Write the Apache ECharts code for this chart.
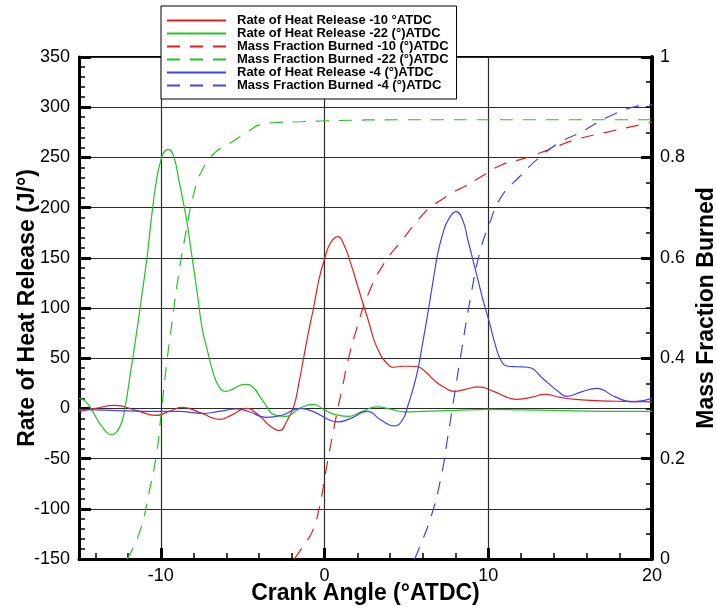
<!DOCTYPE html>
<html>
<head>
<meta charset="utf-8">
<script src="https://cdn.jsdelivr.net/npm/echarts@6/dist/echarts.min.js"></script>
<style>
  html, body { margin: 0; padding: 0; background: #fff; }
  #chart { width: 717px; height: 609px; }
</style>
</head>
<body>
<div id="chart"></div>
<script>
const FONT = '"Liberation Sans", Arial, Helvetica, sans-serif';

// Crank-angle tick positions (degrees ATDC)
const angleMajorTicks = [-10, 0, 10, 20];
const angleMinorTicks = [-14, -12, -8, -6, -4, -2, 2, 4, 6, 8, 12, 14, 16, 18];

const seriesNames = [
  'Rate of Heat Release -10 \u00b0ATDC',
  'Rate of Heat Release -22 (\u00b0)ATDC',
  'Mass Fraction Burned -10 (\u00b0)ATDC',
  'Mass Fraction Burned -22 (\u00b0)ATDC',
  'Rate of Heat Release -4 (\u00b0)ATDC',
  'Mass Fraction Burned -4 (\u00b0)ATDC'
];

// Rate of heat release (J/deg), injection at -10 ATDC
const rhr10Angle = [-15, -14, -12.8, -11.5, -10.3, -9.5, -8.7, -7.5, -6.4, -5.6, -4.8, -4.0, -3.37, -2.76, -2.29, -1.88, -1.57, -1.27, -0.96, -0.66, -0.35, 0, 0.37, 0.82, 1.18, 1.6, 2.0, 2.41, 2.72, 3.02, 3.33, 3.64, 4.25, 4.76, 5.3, 5.69, 6.2, 6.7, 7.3, 7.93, 8.6, 9.37, 10.4, 11.0, 11.7, 12.6, 13.45, 14.4, 15.3, 16.9, 18.5, 20];
const rhr10Value = [-3, 0, 3, -2, -7, -3, 1, -5, -11, -6, 0, -7, -17, -22, -12, 2, 25, 51, 78, 101, 128, 149, 165, 171, 163, 144.5, 123, 101, 85, 68, 56.5, 48, 41, 42, 42, 41.5, 36, 28, 21, 17, 19, 21.5, 16.5, 12, 9, 11, 14, 11, 9, 7.5, 7, 6.5];

// Rate of heat release (J/deg), injection at -22 ATDC
const rhr22Angle = [-15, -14.6, -14.2, -13.6, -13.0, -12.5, -12.2, -11.86, -11.55, -11.15, -10.84, -10.5, -10.23, -10.0, -9.82, -9.55, -9.2, -8.9, -8.65, -8.39, -8.08, -7.77, -7.47, -7.16, -6.85, -6.44, -6.03, -5.52, -4.9, -4.4, -3.79, -2.96, -2.35, -1.53, -0.7, 0, 0.6, 1.4, 2.3, 3.2, 4.1, 4.9, 6, 8, 10, 12, 14, 17, 20];
const rhr22Value = [10, 7, -2, -18, -26, -18, 0, 35, 68, 114, 151, 200, 231, 247, 255, 258, 250, 227, 207, 184, 149, 114, 79, 58, 38, 21.5, 17, 20, 24, 21.5, 8, -7, -8, 0, 4, -1.5, -6, -8, -3, 1.5, -1, -3.5, -3, -2, -1, -1.5, -2, -3, -3];

// Rate of heat release (J/deg), injection at -4 ATDC
const rhr4Angle = [-15, -13, -10.9, -8.9, -7.47, -6.44, -5.4, -4.6, -3.58, -2.55, -1.53, -0.72, 0.3, 0.78, 1.6, 2.6, 3.44, 4.25, 4.76, 5.07, 5.38, 5.69, 5.99, 6.3, 6.6, 6.91, 7.22, 7.53, 8.04, 8.45, 8.75, 9.06, 9.37, 9.71, 10.08, 10.4, 10.8, 11.2, 11.8, 12.4, 13.45, 14.3, 14.8, 15.7, 16.6, 17.75, 18.8, 20];
const rhr4Value = [-1, -2, -3, -3, -5, -3, -0.6, -3.3, -9, -6.6, 0, -3, -11.6, -13.5, -10, -3, -11.6, -17.5, -11.5, 1.7, 18, 38, 65, 94, 124, 154, 174, 187, 196, 187, 168, 148, 128, 106, 85, 65, 47, 42, 41.5, 41, 28, 16.5, 12, 16.5, 20, 11.5, 6.5, 10];

// Mass fraction burned, injection at -10 ATDC
const mfb10Angle = [-1.85, -1.17, -0.76, -0.35, 0.16, 0.67, 1.18, 1.39, 2.0, 2.72, 3.64, 4.66, 5.89, 6.5, 7.12, 7.93, 8.55, 9.37, 10.8, 12.2, 13.66, 15.3, 17.34, 20];
const mfb10Value = [0, 0.032, 0.054, 0.098, 0.19, 0.277, 0.357, 0.39, 0.463, 0.532, 0.589, 0.632, 0.682, 0.702, 0.715, 0.732, 0.742, 0.758, 0.785, 0.798, 0.815, 0.835, 0.851, 0.87];

// Mass fraction burned, injection at -22 ATDC
const mfb22Angle = [-12.05, -11.25, -10.74, -10.29, -10.02, -9.67, -9.3, -8.9, -8.48, -7.98, -7.47, -6.65, -6.03, -4.7, -3.89, -3.2, -1.5, 0.1, 5, 10, 15, 20];
const mfb22Value = [0, 0.058, 0.13, 0.204, 0.277, 0.383, 0.476, 0.57, 0.649, 0.729, 0.775, 0.811, 0.823, 0.851, 0.866, 0.869, 0.871, 0.873, 0.875, 0.875, 0.875, 0.875];

// Mass fraction burned, injection at -4 ATDC
const mfb4Angle = [5.5, 5.69, 6.5, 7.12, 7.53, 7.9, 8.24, 8.96, 9.47, 10.08, 10.8, 11.92, 13.05, 14.28, 15.7, 17.34, 18.98, 20];
const mfb4Value = [0, 0.0145, 0.084, 0.164, 0.244, 0.32, 0.39, 0.529, 0.609, 0.669, 0.722, 0.762, 0.798, 0.828, 0.851, 0.881, 0.901, 0.905];

const RED = '#e0201e', GREEN = '#22c322', BLUE = '#4242f2';
const DASH = [13, 10];

function pairs(xs, ys) { return xs.map((x, i) => [x, ys[i]]); }

function curve(name, xs, ys, color, dashed, yAxisIndex) {
  return {
    name: name,
    type: 'line',
    xAxisIndex: 0,
    yAxisIndex: yAxisIndex,
    data: pairs(xs, ys),
    smooth: 0.5,
    symbol: 'none',
    showSymbol: false,
    clip: true,
    lineStyle: { color: color, width: 1.2, type: dashed ? DASH : 'solid' },
    itemStyle: { color: color },
    emphasis: { disabled: true },
    animation: false
  };
}

const labelStyle = { color: '#000', fontFamily: FONT, fontSize: 18 };
const titleStyle = { color: '#000', fontFamily: FONT, fontSize: 23, fontWeight: 'bold' };
const gridLine = { show: true, lineStyle: { color: '#2b2b2b', width: 1.2 } };
const plotBox = { left: 79, right: 65, top: 57, bottom: 50, outerBoundsMode: 'none', containLabel: false };

const chart = echarts.init(document.getElementById('chart'), null, { renderer: 'canvas' });
chart.setOption({
  animation: false,
  backgroundColor: '#fff',
  grid: [
    Object.assign({ show: true, borderColor: '#000', borderWidth: 2, backgroundColor: 'transparent' }, plotBox),
    Object.assign({ show: false }, plotBox)
  ],
  legend: {
    left: 161, top: 6,
    orient: 'vertical',
    data: seriesNames,
    itemWidth: 59, itemHeight: 12.9, itemGap: 0,
    padding: [8, 8, 7, 5],
    backgroundColor: '#fff',
    borderColor: '#000', borderWidth: 1,
    selectedMode: false,
    itemStyle: { opacity: 0 },
    textStyle: { color: '#000', fontFamily: FONT, fontSize: 13, fontWeight: 'bold', lineHeight: 12.9, padding: [0, 0, 0, 6] }
  },
  xAxis: [
    {
      gridIndex: 0, type: 'value', min: -15, max: 20,
      axisLine: { show: true, onZero: false, lineStyle: { color: '#000', width: 3 } },
      axisTick: { show: true, inside: true, length: 6, customValues: angleMinorTicks, lineStyle: { color: '#000', width: 1.5 } },
      axisLabel: { show: false },
      splitLine: { show: false }
    },
    {
      gridIndex: 1, type: 'value', min: -15, max: 20, position: 'bottom',
      axisLine: { show: false, onZero: false },
      axisTick: { show: true, inside: true, length: 11, customValues: angleMajorTicks, lineStyle: { color: '#000', width: 3 } },
      axisLabel: Object.assign({ customValues: angleMajorTicks, margin: 8 }, labelStyle),
      splitLine: gridLine,
      name: 'Crank Angle (\u00b0ATDC)', nameLocation: 'middle', nameGap: 23, nameMoveOverlap: false,
      nameTextStyle: titleStyle
    }
  ],
  yAxis: [
    {
      gridIndex: 0, type: 'value', position: 'left', min: -150, max: 350, interval: 50,
      axisLine: { show: true, onZero: false, lineStyle: { color: '#000', width: 3 } },
      axisTick: { show: true, inside: true, length: 12, lineStyle: { color: '#000', width: 3 } },
      minorTick: { show: true, splitNumber: 5, length: 6, lineStyle: { color: '#000', width: 1.5 } },
      axisLabel: Object.assign({ margin: 9 }, labelStyle),
      splitLine: gridLine,
      name: 'Rate of Heat Release (J/\u00b0)', nameLocation: 'middle', nameGap: 40, nameMoveOverlap: false,
      nameTextStyle: titleStyle
    },
    {
      gridIndex: 0, type: 'value', position: 'right', min: 0, max: 1, interval: 0.2,
      axisLine: { show: true, onZero: false, lineStyle: { color: '#000', width: 4 } },
      axisTick: { show: true, inside: true, length: 11, lineStyle: { color: '#000', width: 3 } },
      minorTick: { show: true, splitNumber: 4, length: 6, lineStyle: { color: '#000', width: 1.5 } },
      axisLabel: Object.assign({ margin: 8 }, labelStyle),
      splitLine: { show: false },
      name: 'Mass Fraction Burned', nameLocation: 'middle', nameGap: 43, nameMoveOverlap: false,
      nameTextStyle: titleStyle
    },
    { gridIndex: 1, type: 'value', min: 0, max: 1, show: false }
  ],
  series: [
    curve(seriesNames[0], rhr10Angle, rhr10Value, RED, false, 0),
    curve(seriesNames[1], rhr22Angle, rhr22Value, GREEN, false, 0),
    curve(seriesNames[2], mfb10Angle, mfb10Value, RED, true, 1),
    curve(seriesNames[3], mfb22Angle, mfb22Value, GREEN, true, 1),
    curve(seriesNames[4], rhr4Angle, rhr4Value, BLUE, false, 0),
    curve(seriesNames[5], mfb4Angle, mfb4Value, BLUE, true, 1)
  ]
});
</script>
</body>
</html>
